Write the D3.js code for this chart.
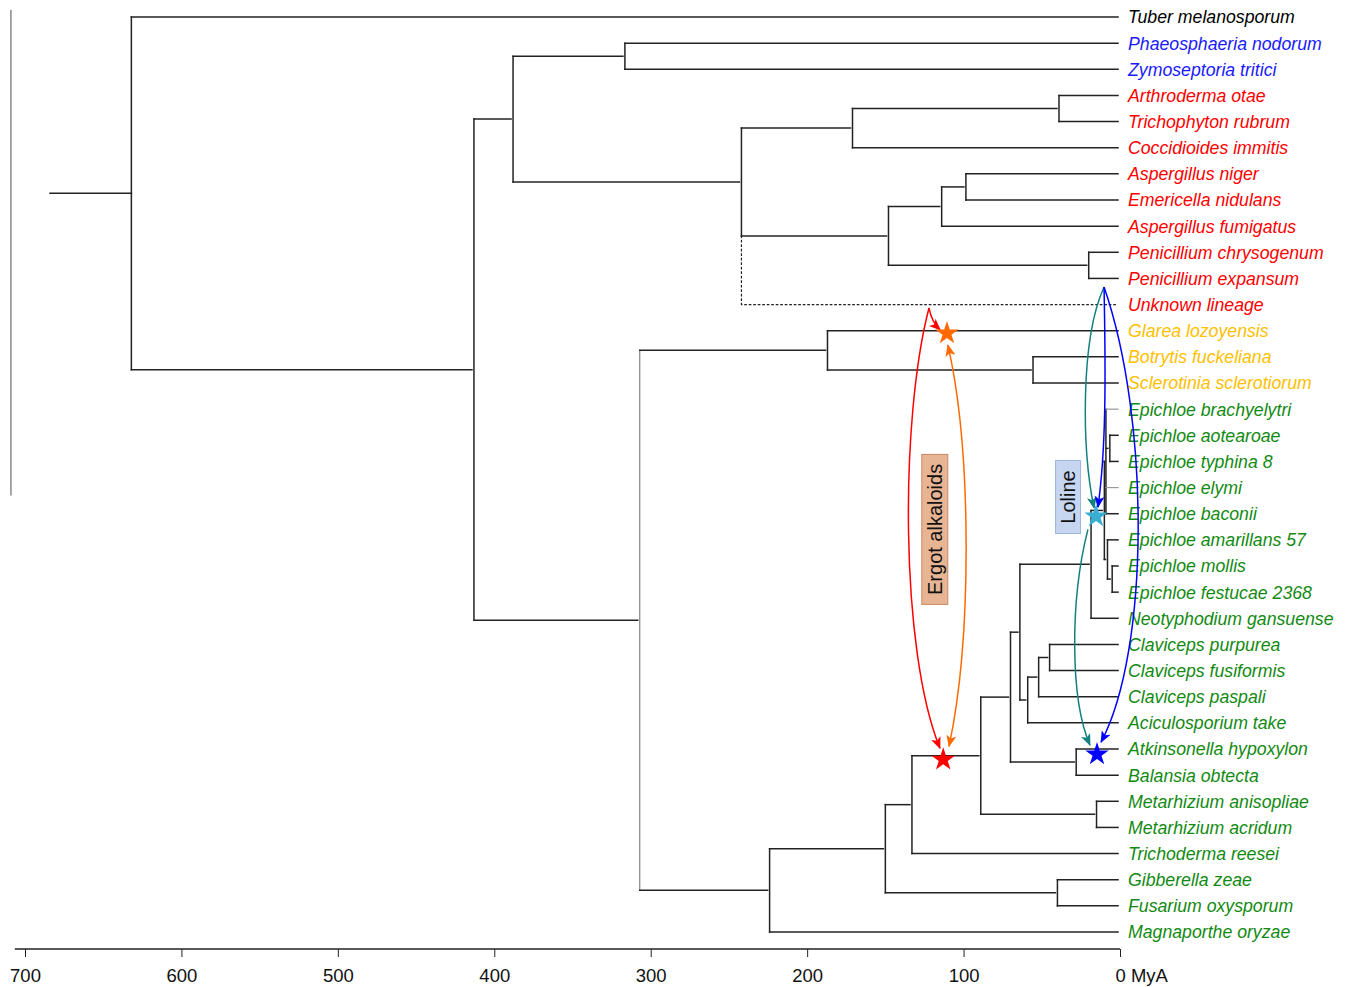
<!DOCTYPE html>
<html><head><meta charset="utf-8">
<script src="https://cdn.jsdelivr.net/npm/d3@7"></script>
<style>
body{margin:0;background:#fff;}
text{font-family:"Liberation Sans",Arial,sans-serif;}
</style></head>
<body><svg id="c" width="1347" height="987"></svg>
<script>
// ---------- DATA ----------
const tipNames = ["Tuber melanosporum","Phaeosphaeria nodorum","Zymoseptoria tritici","Arthroderma otae","Trichophyton rubrum","Coccidioides immitis","Aspergillus niger","Emericella nidulans","Aspergillus fumigatus","Penicillium chrysogenum","Penicillium expansum","Unknown lineage","Glarea lozoyensis","Botrytis fuckeliana","Sclerotinia sclerotiorum","Epichloe brachyelytri","Epichloe aotearoae","Epichloe typhina 8","Epichloe elymi","Epichloe baconii","Epichloe amarillans 57","Epichloe mollis","Epichloe festucae 2368","Neotyphodium gansuense","Claviceps purpurea","Claviceps fusiformis","Claviceps paspali","Aciculosporium take","Atkinsonella hypoxylon","Balansia obtecta","Metarhizium anisopliae","Metarhizium acridum","Trichoderma reesei","Gibberella zeae","Fusarium oxysporum","Magnaporthe oryzae"];
const tipGroups = ["Pezizomycetes","Dothideomycetes","Dothideomycetes","Eurotiomycetes","Eurotiomycetes","Eurotiomycetes","Eurotiomycetes","Eurotiomycetes","Eurotiomycetes","Eurotiomycetes","Eurotiomycetes","Eurotiomycetes","Leotiomycetes","Leotiomycetes","Leotiomycetes","Sordariomycetes","Sordariomycetes","Sordariomycetes","Sordariomycetes","Sordariomycetes","Sordariomycetes","Sordariomycetes","Sordariomycetes","Sordariomycetes","Sordariomycetes","Sordariomycetes","Sordariomycetes","Sordariomycetes","Sordariomycetes","Sordariomycetes","Sordariomycetes","Sordariomycetes","Sordariomycetes","Sordariomycetes","Sordariomycetes","Sordariomycetes"];
const tipParents = ["root","n3","n3","n6","n6","n5","n9","n9","n8","n10","n10","n4","n12","n13","n13","Ea","E2","E2","Ea","Ea","Eb","Ec","Ec","E0","n22","n22","n21","n20","n23","n23","n24","n24","n16","n25","n25","n14"];
const nodeIds     = ["root","n1","n2","n3","n4","n5","n6","n7","n8","n9","n10","n11","n12","n13","n14","n15","n16","n17","n18","n19","E0","E1","Ea","E2","Eb","Ec","n20","n21","n22","n23","n24","n25"];
const nodeParents = [null,"root","n1","n2","n2","n4","n5","n4","n7","n8","n7","n1","n11","n12","n11","n14","n15","n16","n17","n18","n19","E0","E1","Ea","E1","Eb","n19","n20","n21","n18","n17","n15"];
const nodeAges    = [632,413,388,316.5,242,171,39,148,114,98.5,20,307,187,55.6,224,150,133,89,70,64,18.5,10,9,6.5,8,5,59,52,45,28,15,40];
const rootStemAge = 684;
const dottedTips = ["Unknown lineage"];
const axisTicks = [700,600,500,400,300,200,100,0];
const axisUnit = "MyA";

// annotations: [age, row] pairs (start, ctrl1, ctrl2, end)
const arrowNames  = ["redShort","redLong","orange","teal1","teal2","blue1","blue2"];
const arrowGroups = ["red","red","orange","teal","teal","blue","blue"];
const arrowPoints = [
  [[122.1,11.13],[121,11.5],[118,11.8],[115,11.97]],
  [[122.1,11.13],[140.7,15.4],[140.7,24.2],[115.1,27.97]],
  [[110,12.55],[94.6,16.6],[94.6,23.8],[109.3,27.9]],
  [[10.2,10.33],[25.6,12.36],[24.3,16.56],[16.6,18.78]],
  [[20.5,19.6],[32,22.3],[32,26.1],[19.2,27.85]],
  [[10.2,10.33],[9,13.9],[9,16.56],[14.1,18.75]],
  [[10.2,10.33],[-19.2,15.4],[-19.2,24.2],[12.1,27.74]]
];
const arrowBoth = [false,false,true,false,false,false,false];
const starGroups = ["orange","red","cyan","blue"];
const starPoints = [[110.6,12.1],[113,28.4],[15.3,19.1],[14.7,28.2]];
const boxLabels = ["Ergot alkaloids","Loline"];
const boxCenters = [[118.4,19.6],[33.2,18.36]];

// ---------- RENDER ----------
const svg = d3.select("#c");
svg.append("rect").attr("width",1347).attr("height",987).attr("fill","#fff");
const x = d3.scaleLinear().domain([700,0]).range([25,1120]);
const y = d3.scaleLinear().domain([0,tipNames.length-1]).range([17,932]);

const groupColor = {Pezizomycetes:"#000",Dothideomycetes:"#1a1aff",Eurotiomycetes:"#ff0000",Leotiomycetes:"#ffc000",Sordariomycetes:"#128a12"};
const annColor = {red:"#ff0000",orange:"#ff6a00",teal:"#138080",blue:"#0000ff",cyan:"#39aed2"};

const rows = nodeIds.map((id,i)=>({id,parent:nodeParents[i],age:nodeAges[i]}))
  .concat(tipNames.map((n,i)=>({id:n,parent:tipParents[i],age:0,tip:i})));
const root = d3.stratify().id(d=>d.id).parentId(d=>d.parent)(rows);
root.eachAfter(n=>{
  n.px = x(n.data.age);
  if(n.data.tip!==undefined){ n.py = y(n.data.tip); }
  else{
    const kids = n.children.filter(c=>!dottedTips.includes(c.id));
    n.vmin = d3.min(kids,c=>c.py); n.vmax = d3.max(kids,c=>c.py);
    n.py = (n.vmin+n.vmax)/2;
  }
});
const grayTips = ["Epichloe brachyelytri","Epichloe elymi"];
const g = svg.append("g").attr("fill","none").attr("stroke-linecap","square");
g.append("line").attr("x1",x(rootStemAge)).attr("x2",root.px).attr("y1",root.py).attr("y2",root.py)
 .attr("stroke","#222").attr("stroke-width",1.5);
root.descendants().forEach(n=>{
  if(n.parent){
    if(dottedTips.includes(n.id)){
      g.append("path").attr("d",`M${n.parent.px},${n.parent.vmax}V${n.py}H${n.px-2}`)
       .attr("stroke","#222").attr("stroke-width",1.2).attr("stroke-dasharray","1.5,3");
    } else {
      const gr = grayTips.includes(n.id);
      g.append("line").attr("x1",n.parent.px).attr("x2",n.px-2).attr("y1",n.py).attr("y2",n.py)
       .attr("stroke",gr?"#999":"#222").attr("stroke-width",gr?1.2:1.5);
    }
  }
  if(n.children){
    g.append("line").attr("x1",n.px).attr("x2",n.px).attr("y1",n.vmin).attr("y2",n.vmax)
     .attr("stroke",n.id==="n11"?"#777":"#222").attr("stroke-width",n.id==="n11"?1.1:1.5);
  }
});
svg.append("g").selectAll("text").data(tipNames).join("text")
  .attr("x",x(0)+8).attr("y",(d,i)=>y(i)).attr("dy","0.36em")
  .attr("font-size",17.7).attr("font-style","italic")
  .attr("fill",(d,i)=>groupColor[tipGroups[i]]).text(d=>d);

const ax = svg.append("g").attr("transform","translate(0,949)");
ax.call(d3.axisBottom(x).tickValues(axisTicks).tickSize(8).tickFormat(d=>d===0?`0 ${axisUnit}`:d));
ax.select(".domain").remove();
ax.append("line").attr("x1",x(706.5)).attr("x2",x(0)).attr("stroke","#222").attr("stroke-width",1.5);
ax.selectAll(".tick line").attr("stroke","#222");
ax.selectAll(".tick text").attr("font-size",18.5).attr("fill","#111").attr("y",20).attr("dy","0.71em")
  .attr("font-family","'Liberation Sans',Arial,sans-serif");
ax.selectAll(".tick").filter(d=>d===0).select("text").attr("text-anchor","start").attr("x",-5);

svg.append("line").attr("x1",x(709)).attr("x2",x(709)).attr("y1",y(-0.27)).attr("y2",y(18.3))
  .attr("stroke","#888").attr("stroke-width",1.5);

const defs = svg.append("defs");
Object.entries(annColor).forEach(([k,c])=>{
  defs.append("marker").attr("id","m-"+k).attr("viewBox","0 0 12 10").attr("refX",11).attr("refY",5)
   .attr("markerWidth",12).attr("markerHeight",10).attr("markerUnits","userSpaceOnUse").attr("orient","auto-start-reverse")
   .append("path").attr("d","M0,0L12,5L0,10L3,5Z").attr("fill",c);
});
const ann = svg.append("g");
arrowPoints.forEach((p,i)=>{
  const P = p.map(q=>[x(q[0]),y(q[1])]);
  const path = d3.path(); path.moveTo(...P[0]); path.bezierCurveTo(...P[1],...P[2],...P[3]);
  const el = ann.append("path").attr("d",path.toString()).attr("fill","none")
    .attr("stroke",annColor[arrowGroups[i]]).attr("stroke-width",1.5)
    .attr("marker-end",`url(#m-${arrowGroups[i]})`);
  if(arrowBoth[i]) el.attr("marker-start",`url(#m-${arrowGroups[i]})`);
});
ann.selectAll(".star").data(starPoints).join("path")
  .attr("transform",d=>`translate(${x(d[0])},${y(d[1])})`)
  .attr("d",d3.symbol(d3.symbolStar,170)).attr("fill",(d,i)=>annColor[starGroups[i]]);
const boxStyle = [{w:26,h:150,fill:"#e7b594",stroke:"#c98a60",fs:20},{w:25,h:73,fill:"#c6d6f0",stroke:"#9db4dd",fs:20}];
boxLabels.forEach((t,i)=>{
  const cx=x(boxCenters[i][0]), cy=y(boxCenters[i][1]), s=boxStyle[i];
  ann.append("rect").attr("x",cx-s.w/2).attr("y",cy-s.h/2).attr("width",s.w).attr("height",s.h)
    .attr("fill",s.fill).attr("stroke",s.stroke).attr("stroke-width",1);
  ann.append("text").attr("transform",`translate(${cx},${cy}) rotate(-90)`).attr("text-anchor","middle")
    .attr("dy","0.36em").attr("font-size",s.fs).attr("fill","#111").text(t);
});
</script></body></html>
